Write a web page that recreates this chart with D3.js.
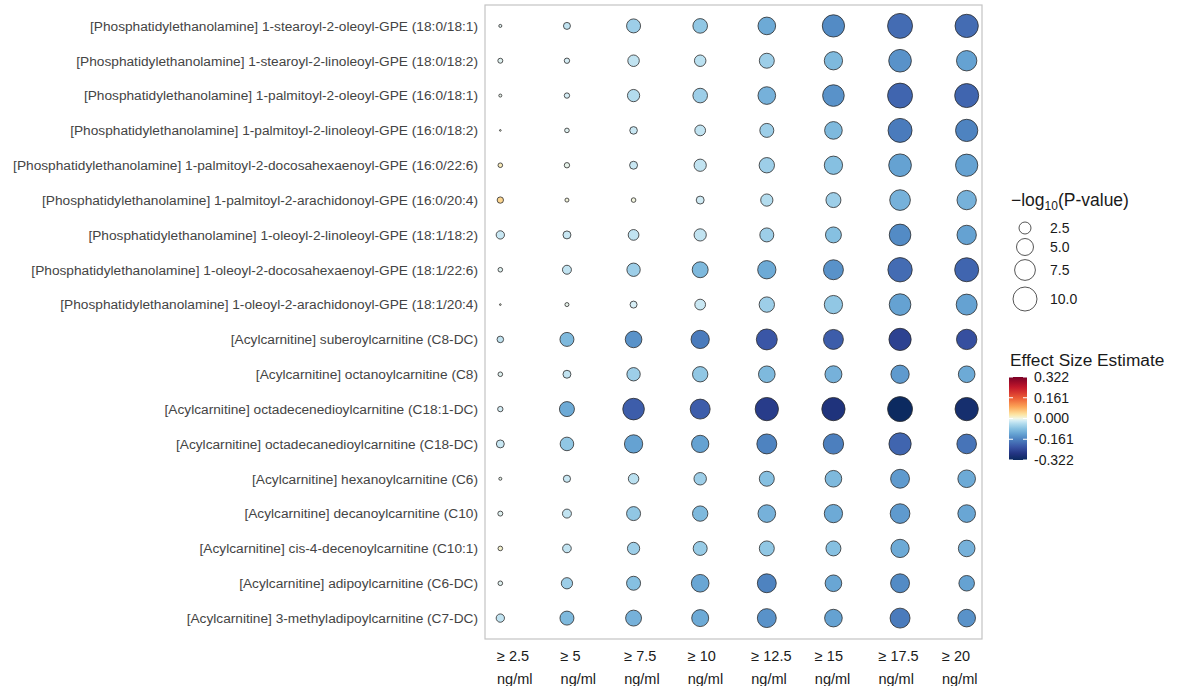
<!DOCTYPE html>
<html>
<head>
<meta charset="utf-8">
<script src="https://cdn.jsdelivr.net/npm/d3@7"></script>
<style>
  body { margin: 0; background: #fff; }
  text { font-family: "Liberation Sans", Arial, sans-serif; }
</style>
</head>
<body>
<svg id="chart"></svg>
<script>
const width = 1177;
const height = 686;

// columns (thresholds) and rows (metabolites)
const thresholds = ['≥ 2.5', '≥ 5', '≥ 7.5', '≥ 10', '≥ 12.5', '≥ 15', '≥ 17.5', '≥ 20'];
const metabolites = [
	'[Phosphatidylethanolamine] 1-stearoyl-2-oleoyl-GPE (18:0/18:1)',
	'[Phosphatidylethanolamine] 1-stearoyl-2-linoleoyl-GPE (18:0/18:2)',
	'[Phosphatidylethanolamine] 1-palmitoyl-2-oleoyl-GPE (16:0/18:1)',
	'[Phosphatidylethanolamine] 1-palmitoyl-2-linoleoyl-GPE (16:0/18:2)',
	'[Phosphatidylethanolamine] 1-palmitoyl-2-docosahexaenoyl-GPE (16:0/22:6)',
	'[Phosphatidylethanolamine] 1-palmitoyl-2-arachidonoyl-GPE (16:0/20:4)',
	'[Phosphatidylethanolamine] 1-oleoyl-2-linoleoyl-GPE (18:1/18:2)',
	'[Phosphatidylethanolamine] 1-oleoyl-2-docosahexaenoyl-GPE (18:1/22:6)',
	'[Phosphatidylethanolamine] 1-oleoyl-2-arachidonoyl-GPE (18:1/20:4)',
	'[Acylcarnitine] suberoylcarnitine (C8-DC)',
	'[Acylcarnitine] octanoylcarnitine (C8)',
	'[Acylcarnitine] octadecenedioylcarnitine (C18:1-DC)',
	'[Acylcarnitine] octadecanedioylcarnitine (C18-DC)',
	'[Acylcarnitine] hexanoylcarnitine (C6)',
	'[Acylcarnitine] decanoylcarnitine (C10)',
	'[Acylcarnitine] cis-4-decenoylcarnitine (C10:1)',
	'[Acylcarnitine] adipoylcarnitine (C6-DC)',
	'[Acylcarnitine] 3-methyladipoylcarnitine (C7-DC)'
];

// effect size estimate, one row per metabolite
const effect = [
	[-0.010, -0.030, -0.060, -0.070, -0.110, -0.150, -0.190, -0.190],
	[-0.010, -0.015, -0.030, -0.035, -0.060, -0.090, -0.140, -0.120],
	[-0.005, -0.015, -0.040, -0.060, -0.100, -0.140, -0.200, -0.200],
	[0.000, -0.010, -0.025, -0.030, -0.060, -0.090, -0.170, -0.160],
	[0.020, -0.005, -0.025, -0.030, -0.060, -0.080, -0.120, -0.120],
	[0.045, 0.005, 0.003, -0.020, -0.040, -0.060, -0.100, -0.100],
	[-0.025, -0.025, -0.030, -0.030, -0.060, -0.080, -0.150, -0.120],
	[-0.010, -0.030, -0.060, -0.090, -0.110, -0.140, -0.190, -0.200],
	[0.000, -0.005, -0.015, -0.025, -0.060, -0.070, -0.120, -0.120],
	[-0.030, -0.090, -0.140, -0.170, -0.220, -0.210, -0.250, -0.230],
	[-0.010, -0.030, -0.060, -0.070, -0.090, -0.100, -0.130, -0.110],
	[-0.015, -0.110, -0.210, -0.210, -0.260, -0.280, -0.320, -0.300],
	[-0.025, -0.070, -0.120, -0.120, -0.160, -0.165, -0.200, -0.180],
	[-0.005, -0.025, -0.035, -0.060, -0.080, -0.090, -0.130, -0.110],
	[-0.010, -0.030, -0.070, -0.090, -0.100, -0.110, -0.130, -0.115],
	[0.010, -0.030, -0.060, -0.065, -0.070, -0.080, -0.110, -0.100],
	[-0.010, -0.060, -0.080, -0.115, -0.160, -0.115, -0.150, -0.120],
	[-0.030, -0.090, -0.100, -0.110, -0.140, -0.120, -0.170, -0.140]
];

// -log10(P-value), one row per metabolite
const logP = [
	[0.16, 0.85, 3.4, 3.7, 5.4, 8.6, 10.8, 9.4],
	[0.43, 0.50, 2.3, 2.3, 3.9, 5.8, 8.9, 7.2],
	[0.16, 0.50, 2.6, 3.7, 5.4, 8.1, 10.8, 10.0],
	[0.05, 0.37, 1.0, 2.0, 3.4, 5.4, 10.0, 8.6],
	[0.37, 0.50, 1.1, 2.6, 4.1, 5.8, 8.9, 8.6],
	[0.70, 0.28, 0.37, 1.1, 2.6, 3.9, 7.4, 6.5],
	[1.20, 1.10, 2.0, 2.6, 3.4, 4.4, 8.1, 6.5],
	[0.37, 1.40, 3.1, 4.4, 5.8, 6.9, 10.3, 10.0],
	[0.05, 0.28, 0.85, 2.0, 4.1, 5.8, 8.1, 7.6],
	[0.75, 3.40, 4.8, 5.8, 7.6, 6.9, 8.6, 7.2],
	[0.37, 1.10, 3.1, 4.1, 4.8, 5.0, 5.8, 4.8],
	[0.50, 3.90, 8.1, 6.9, 9.4, 9.4, 10.8, 9.4],
	[1.10, 3.20, 5.8, 5.2, 6.9, 7.2, 8.6, 6.7],
	[0.16, 0.90, 1.9, 2.7, 3.9, 4.8, 6.2, 5.4],
	[0.43, 1.40, 3.4, 4.1, 5.4, 5.8, 6.7, 5.4],
	[0.37, 1.30, 2.6, 3.4, 3.9, 3.9, 5.8, 4.8],
	[0.37, 2.20, 3.4, 5.4, 6.2, 4.8, 6.2, 4.2],
	[1.20, 3.40, 4.4, 5.0, 6.2, 5.4, 6.9, 5.4]
];

const sizeBreaks = [2.5, 5.0, 7.5, 10.0];
const colorBreaks = [0.322, 0.161, 0, -0.161, -0.322];

// palette for the effect gradient
const effStops = [-0.322, -0.27, -0.22, -0.161, -0.12, -0.08, -0.04, -0.015, 0, 0.03, 0.09, 0.161, 0.24, 0.322];
const effColors = ['#0b2a5f', '#243583', '#3a56a6', '#4d82c0', '#65a2d2', '#86c0e1', '#b3dcee', '#d6eef6', '#f0f6e4', '#fde6a3', '#fca557', '#eb5a35', '#c4182b', '#7a0026'];

// long format
let cells = [];
metabolites.forEach((m, i) => {
	thresholds.forEach((t, j) => {
		cells.push({ m: m, t: t, est: effect[i][j], p: logP[i][j] });
	});
});

const panel = { left: 485, right: 982, top: 5, bottom: 639 };

const x = d3.scalePoint().domain(thresholds).range([panel.left, panel.right]).padding(0.23);
const y = d3.scalePoint().domain(metabolites).range([panel.top, panel.bottom]).padding(0.6);
const r = d3.scaleSqrt().domain([0, 10]).range([0, 12]);
const color = d3.scaleLinear().domain(effStops).range(effColors).clamp(true);

const svg = d3.select('#chart')
	.attr('width', width)
	.attr('height', height);

svg.append('rect').attr('width', width).attr('height', height).attr('fill', '#fff');

// panel border
svg.append('rect')
	.attr('x', panel.left)
	.attr('y', panel.top)
	.attr('width', panel.right - panel.left)
	.attr('height', panel.bottom - panel.top)
	.attr('fill', 'none')
	.attr('stroke', '#c4c4c4')
	.attr('stroke-width', 1.2);

// dots
svg.append('g')
	.selectAll('circle')
	.data(cells)
	.join('circle')
	.attr('cx', d => x(d.t))
	.attr('cy', d => y(d.m))
	.attr('r', d => Math.max(r(d.p), 0.8))
	.attr('fill', d => color(d.est))
	.attr('stroke', '#2b2b2b')
	.attr('stroke-width', 0.8);

// y labels
svg.append('g')
	.selectAll('text')
	.data(metabolites)
	.join('text')
	.attr('x', 478)
	.attr('y', d => y(d))
	.attr('dy', '0.35em')
	.attr('text-anchor', 'end')
	.attr('font-size', 13.7)
	.attr('fill', '#444')
	.text(d => d);

// x labels (two lines, left aligned, slightly tighter than the columns)
const xl = d3.scalePoint().domain(thresholds).range([497, 942]);
const xLab = svg.append('g')
	.selectAll('text')
	.data(thresholds)
	.join('text')
	.attr('x', d => xl(d))
	.attr('y', 661)
	.attr('font-size', 14.5)
	.attr('fill', '#1a1a1a');
xLab.append('tspan').text(d => d);
xLab.append('tspan').attr('x', d => xl(d)).attr('dy', 23).text('ng/ml');

///////// size legend
const sl = svg.append('g');
const st = sl.append('text')
	.attr('x', 1011)
	.attr('y', 206)
	.attr('font-size', 17.5)
	.attr('fill', '#1a1a1a');
st.append('tspan').text('\u2212log');
st.append('tspan').attr('font-size', 12).attr('dy', 4).text('10');
st.append('tspan').attr('dy', -4).text('(P-value)');

const sizeY = [228, 247, 270, 299];
sl.selectAll('circle')
	.data(sizeBreaks)
	.join('circle')
	.attr('cx', 1025)
	.attr('cy', (d, i) => sizeY[i])
	.attr('r', d => r(d))
	.attr('fill', 'none')
	.attr('stroke', '#2b2b2b')
	.attr('stroke-width', 0.8);
sl.selectAll('text.lab')
	.data(sizeBreaks)
	.join('text')
	.attr('class', 'lab')
	.attr('x', 1050)
	.attr('y', (d, i) => sizeY[i])
	.attr('dy', '0.35em')
	.attr('font-size', 14)
	.attr('fill', '#1a1a1a')
	.text(d => d.toFixed(1));

///////// colour legend
const cl = svg.append('g');
cl.append('text')
	.attr('x', 1010)
	.attr('y', 366)
	.attr('font-size', 17.3)
	.attr('fill', '#1a1a1a')
	.text('Effect Size Estimate');

const barTop = 377, barBottom = 460, barX = 1009, barW = 18;
const cy = d3.scaleLinear().domain([0.322, -0.322]).range([barTop, barBottom]);

const grad = svg.append('defs').append('linearGradient')
	.attr('id', 'effGrad')
	.attr('x1', 0).attr('y1', 0).attr('x2', 0).attr('y2', 1);
grad.selectAll('stop')
	.data(d3.range(0, 1.0001, 0.02))
	.join('stop')
	.attr('offset', d => d)
	.attr('stop-color', d => color(cy.invert(barTop + d * (barBottom - barTop))));

cl.append('rect')
	.attr('x', barX)
	.attr('y', barTop)
	.attr('width', barW)
	.attr('height', barBottom - barTop)
	.attr('fill', 'url(#effGrad)');

// white tick marks
for (let b of colorBreaks) {
	cl.append('line').attr('x1', barX).attr('x2', barX + 4)
		.attr('y1', cy(b)).attr('y2', cy(b))
		.attr('stroke', '#fff').attr('stroke-width', 1);
	cl.append('line').attr('x1', barX + barW - 4).attr('x2', barX + barW)
		.attr('y1', cy(b)).attr('y2', cy(b))
		.attr('stroke', '#fff').attr('stroke-width', 1);
}

cl.selectAll('text.lab')
	.data(colorBreaks)
	.join('text')
	.attr('class', 'lab')
	.attr('x', 1034)
	.attr('y', d => cy(d))
	.attr('dy', '0.35em')
	.attr('font-size', 14)
	.attr('fill', '#1a1a1a')
	.text(d => d3.format('.3f')(d).replace('−', '-'));
</script>
</body>
</html>
